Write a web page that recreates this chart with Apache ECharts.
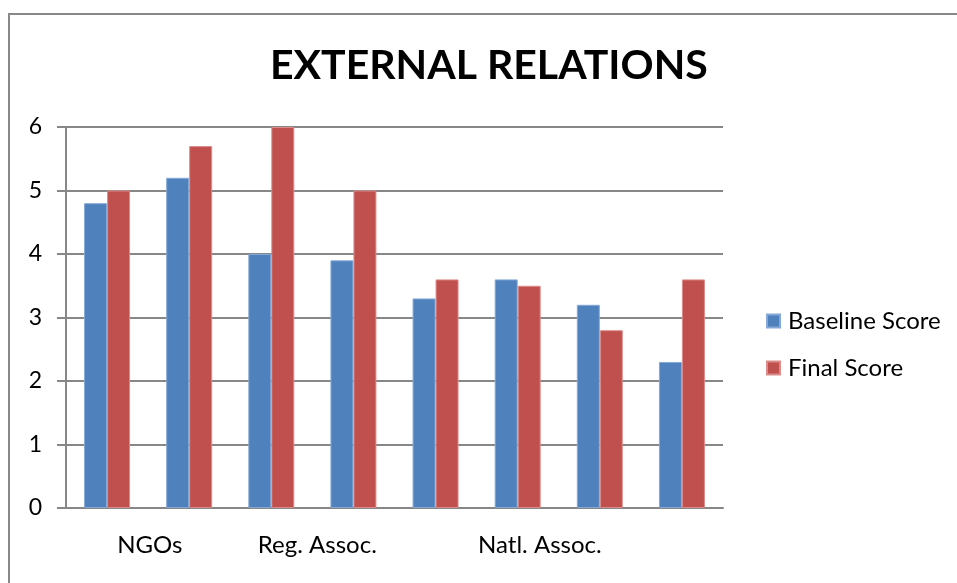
<!DOCTYPE html>
<html>
<head>
<meta charset="utf-8">
<script src="https://cdn.jsdelivr.net/npm/echarts@6/dist/echarts.min.js"></script>
<style>
  html, body { margin: 0; padding: 0; background: #ffffff; }
  #chart { width: 957px; height: 583px; }
</style>
</head>
<body>
<div id="chart"></div>
<script>
// Eight organisations, scored before and after the programme
const categories = ['1', '2', '3', '4', '5', '6', '7', '8'];
const baselineScore = [4.8, 5.2, 4.0, 3.9, 3.3, 3.6, 3.2, 2.3];
const finalScore = [5.0, 5.7, 6.0, 5.0, 3.6, 3.5, 2.8, 3.6];

// Group captions under the bars, anchored in category units
const groupLabels = ['NGOs', 'Reg. Assoc.', 'Natl. Assoc.'];
const groupLabelAt = [1.02, 3.06, 5.77];

const yTicks = [0, 1, 2, 3, 4, 5, 6];

const FONT = 'Lato, "Open Sans", sans-serif';
const GRID = '#878787';

const chart = echarts.init(document.getElementById('chart'), null, { renderer: 'canvas' });

chart.setOption({
  backgroundColor: '#ffffff',
  animation: false,
  title: {
    text: 'EXTERNAL RELATIONS',
    left: 270,
    top: 45,
    padding: 0,
    textStyle: { fontFamily: FONT, fontWeight: 'bold', fontSize: 41, color: '#000000' }
  },
  legend: {
    orient: 'vertical',
    left: 766,
    top: 309,
    padding: 0,
    itemWidth: 13,
    itemHeight: 13,
    itemGap: 23,
    icon: 'rect',
    textStyle: { fontFamily: FONT, fontSize: 24, color: '#000000', padding: [0, 0, 0, 3] },
    data: ['Baseline Score', 'Final Score']
  },
  grid: { left: 66, right: 234, top: 127, bottom: 75, containLabel: false },
  xAxis: [
    {
      type: 'category',
      data: categories,
      axisLine: { lineStyle: { color: GRID, width: 2 } },
      axisTick: { show: false },
      axisLabel: { show: false }
    },
    {
      type: 'value',
      position: 'bottom',
      min: 0,
      max: categories.length,
      axisLine: { show: false },
      axisTick: { show: false },
      splitLine: { show: false },
      axisLabel: {
        customValues: groupLabelAt,
        formatter: function (v) {
          const i = groupLabelAt.indexOf(v);
          return i >= 0 ? groupLabels[i] : '';
        },
        margin: 25,
        fontFamily: FONT,
        fontSize: 24,
        color: '#000000'
      }
    }
  ],
  yAxis: {
    type: 'value',
    min: 0,
    max: 6,
    interval: 1,
    axisLine: { show: true, lineStyle: { color: GRID, width: 2 } },
    axisTick: { show: true, inside: false, length: 9, lineStyle: { color: GRID, width: 2 } },
    splitLine: { lineStyle: { color: GRID, width: 2 } },
    axisLabel: {
      margin: 24,
      fontFamily: FONT,
      fontSize: 23,
      color: '#000000',
      formatter: function (v) { return yTicks.indexOf(v) >= 0 ? String(v) : ''; }
    }
  },
  series: [
    {
      name: 'Baseline Score',
      type: 'bar',
      xAxisIndex: 0,
      data: baselineScore,
      barGap: '0%',
      barCategoryGap: '44%',
      itemStyle: { color: '#4F81BD', borderColor: '#86A8D6', borderWidth: 1 }
    },
    {
      name: 'Final Score',
      type: 'bar',
      xAxisIndex: 0,
      data: finalScore,
      barGap: '0%',
      barCategoryGap: '44%',
      itemStyle: { color: '#C0504D', borderColor: '#DB8C8A', borderWidth: 1 }
    }
  ],
  graphic: [
    {
      type: 'rect',
      silent: true,
      shape: { x: 9, y: 14, width: 1000, height: 620 },
      style: { fill: null, stroke: '#898989', lineWidth: 2 }
    }
  ]
});
</script>
</body>
</html>
